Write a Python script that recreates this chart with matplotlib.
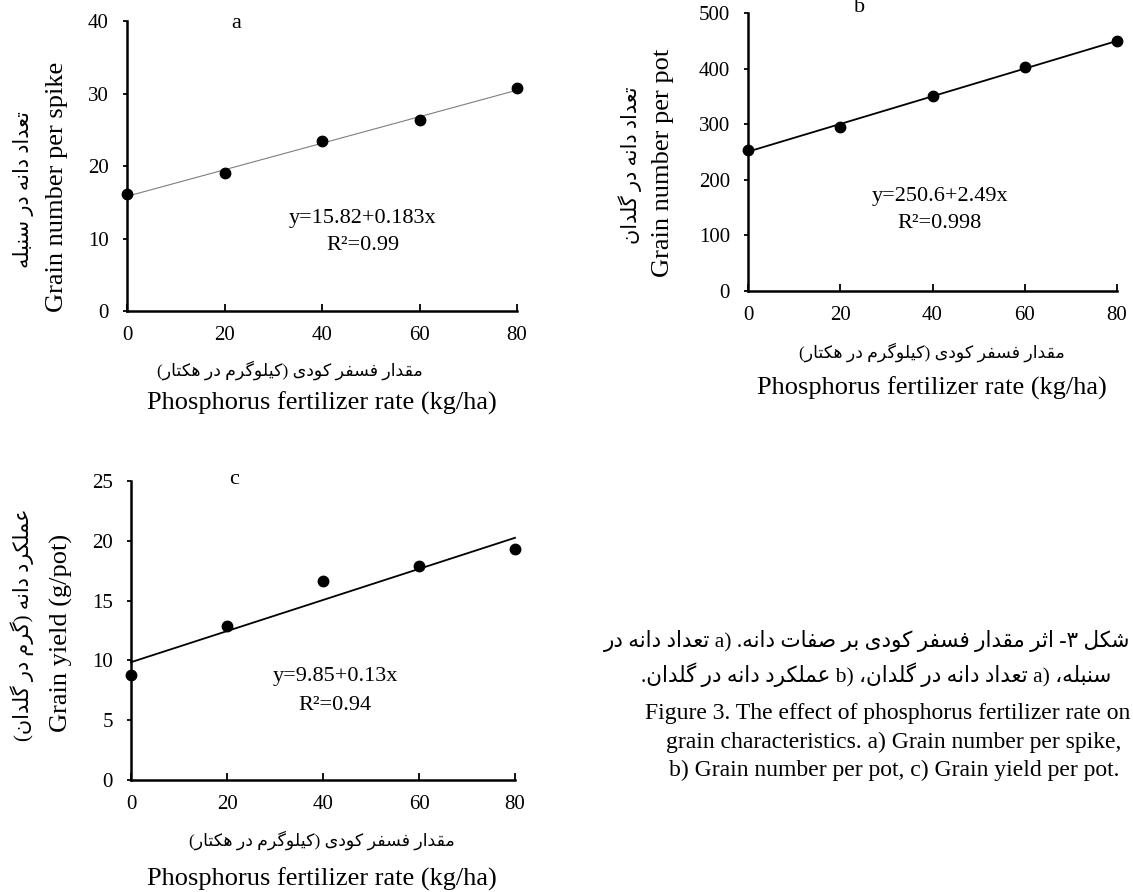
import matplotlib
matplotlib.use("Agg")
import matplotlib.pyplot as plt

plt.rcParams['font.family'] = ['Liberation Serif', 'DejaVu Sans']

# data
rates = [0, 20, 40, 60, 80]
grain_per_spike = [16.1, 19.0, 23.4, 26.3, 30.8]
grain_per_pot = [253, 295, 350, 403, 449]
yield_per_pot = [8.8, 12.9, 16.6, 17.9, 19.3]

fit_a = (15.82, 0.183)
fit_b = (250.6, 2.49)
fit_c = (9.85, 0.13)

eq_a = ["y=15.82+0.183x", "R²=0.99"]
eq_b = ["y=250.6+2.49x", "R²=0.998"]
eq_c = ["y=9.85+0.13x", "R²=0.94"]

yticks_a = [0, 10, 20, 30, 40]
yticks_b = [0, 100, 200, 300, 400, 500]
yticks_c = [0, 5, 10, 15, 20, 25]

xlabel_en = "Phosphorus fertilizer rate (kg/ha)"
xlabel_fa = "مقدار فسفر کودی (کیلوگرم در هکتار)"
ylabel_a = ("Grain number per spike", "تعداد دانه در سنبله")
ylabel_b = ("Grain number per pot", "تعداد دانه در گلدان")
ylabel_c = ("Grain yield (g/pot)", "عملکرد دانه (گرم در گلدان)")

caption_fa = ["شکل ۳- اثر مقدار فسفر کودی بر صفات دانه. (a تعداد دانه در",
              "سنبله، (a تعداد دانه در گلدان، (b عملکرد دانه در گلدان."]
caption_en = ["Figure 3. The effect of phosphorus fertilizer rate on",
              "grain characteristics. a) Grain number per spike,",
              "b) Grain number per pot, c) Grain yield per pot."]


# simple Persian shaping (no complex text layout in matplotlib)
FORMS = {
    'ا': ('\uFE8D', '\uFE8E', None, None),
    'ب': ('\uFE8F', '\uFE90', '\uFE91', '\uFE92'),
    'ت': ('\uFE95', '\uFE96', '\uFE97', '\uFE98'),
    'ث': ('\uFE99', '\uFE9A', '\uFE9B', '\uFE9C'),
    'د': ('\uFEA9', '\uFEAA', None, None),
    'ر': ('\uFEAD', '\uFEAE', None, None),
    'س': ('\uFEB1', '\uFEB2', '\uFEB3', '\uFEB4'),
    'ش': ('\uFEB5', '\uFEB6', '\uFEB7', '\uFEB8'),
    'ص': ('\uFEB9', '\uFEBA', '\uFEBB', '\uFEBC'),
    'ع': ('\uFEC9', '\uFECA', '\uFECB', '\uFECC'),
    'ف': ('\uFED1', '\uFED2', '\uFED3', '\uFED4'),
    'ق': ('\uFED5', '\uFED6', '\uFED7', '\uFED8'),
    'ل': ('\uFEDD', '\uFEDE', '\uFEDF', '\uFEE0'),
    'م': ('\uFEE1', '\uFEE2', '\uFEE3', '\uFEE4'),
    'ن': ('\uFEE5', '\uFEE6', '\uFEE7', '\uFEE8'),
    'ه': ('\uFEE9', '\uFEEA', '\uFEEB', '\uFEEC'),
    'و': ('\uFEED', '\uFEEE', None, None),
    'ک': ('\uFB8E', '\uFB8F', '\uFB90', '\uFB91'),
    'گ': ('\uFB92', '\uFB93', '\uFB94', '\uFB95'),
    'ی': ('\uFBFC', '\uFBFD', '\uFBFE', '\uFBFF'),
}


def fa(text):
    out = []
    for i, ch in enumerate(text):
        if ch not in FORMS:
            out.append(ch)
            continue
        iso, fin, ini, med = FORMS[ch]
        prev = text[i - 1] if i > 0 else ''
        nxt = text[i + 1] if i + 1 < len(text) else ''
        join_prev = prev in FORMS and FORMS[prev][2] is not None
        join_next = ini is not None and nxt in FORMS
        if join_prev and join_next:
            out.append(med)
        elif join_prev:
            out.append(fin)
        elif join_next:
            out.append(ini)
        else:
            out.append(iso)
    mirror = {'(': ')', ')': '('}
    return ''.join(mirror.get(c, c) for c in reversed(out))


W, H = 1133, 892
fig = plt.figure(figsize=(W / 100, H / 100), dpi=100)


def box(x0, x1, ytop, ybot):
    return [x0 / W, 1 - ybot / H, (x1 - x0) / W, (ybot - ytop) / H]


def ftext(x, y, s, **kw):
    fig.text(x / W, 1 - y / H, s, ha=kw.pop('ha', 'center'), va=kw.pop('va', 'center'), **kw)


def panel(rect, yvals, fit, yticks, line_kw):
    ax = fig.add_axes(rect)
    xs = [rates[0], rates[-1]]
    ax.plot(xs, [fit[0] + fit[1] * x for x in xs], clip_on=False, **line_kw)
    ax.plot(rates, yvals, 'o', color='black', ms=7.5, clip_on=False, zorder=5)
    ax.set_xlim(0, 80)
    ax.set_ylim(yticks[0], yticks[-1])
    ax.set_xticks(rates)
    ax.set_yticks(yticks)
    for s in ['top', 'right']:
        ax.spines[s].set_visible(False)
    for s in ['left', 'bottom']:
        ax.spines[s].set_linewidth(1.8)
    ax.tick_params(axis='x', direction='in', length=5, width=1.3, pad=11, labelsize=15)
    ax.tick_params(axis='y', direction='out', length=3, width=1.3, pad=10, labelsize=15)
    return ax


# panel a
panel(box(127, 517, 21, 311), grain_per_spike, fit_a, yticks_a,
      dict(color='#7f7f7f', lw=0.8))
ftext(236, 23, "a", fontsize=16)
ftext(363, 218, eq_a[0], fontsize=16)
ftext(363, 246, eq_a[1], fontsize=16)
ftext(290, 370, fa(xlabel_fa), fontsize=12.5)
ftext(322, 403, xlabel_en, fontsize=19)
ftext(57, 187, ylabel_a[0], fontsize=19, rotation=90)
ftext(24, 190, fa(ylabel_a[1]), fontsize=15, rotation=90)

# panel b
panel(box(748, 1117, 13, 291), grain_per_pot, fit_b, yticks_b,
      dict(color='black', lw=1.3))
ftext(860, 8, "b", fontsize=16)
ftext(940, 196, eq_b[0], fontsize=16)
ftext(940, 224, eq_b[1], fontsize=16)
ftext(932, 352, fa(xlabel_fa), fontsize=12.5)
ftext(932, 388, xlabel_en, fontsize=19)
ftext(663, 163, ylabel_b[0], fontsize=19, rotation=90)
ftext(630, 165, fa(ylabel_b[1]), fontsize=15, rotation=90)

# panel c
panel(box(131, 515, 481, 780), yield_per_pot, fit_c, yticks_c,
      dict(color='black', lw=1.3))
ftext(234, 480, "c", fontsize=16)
ftext(335, 677, eq_c[0], fontsize=16)
ftext(335, 705, eq_c[1], fontsize=16)
ftext(322, 840, fa(xlabel_fa), fontsize=12.5)
ftext(322, 879, xlabel_en, fontsize=19)
ftext(61, 633, ylabel_c[0], fontsize=19, rotation=90)
ftext(22, 625, fa(ylabel_c[1]), fontsize=15, rotation=90)

# caption
ftext(1130, 641, fa(caption_fa[0]), fontsize=15.5, ha='right')
ftext(876, 675, fa(caption_fa[1]), fontsize=15.5)
ftext(1130, 714, caption_en[0], fontsize=17, ha='right')
for i, line in enumerate(caption_en[1:]):
    ftext(894, 742 + 28 * i, line, fontsize=17)

fig.savefig("out.png", dpi=100)
